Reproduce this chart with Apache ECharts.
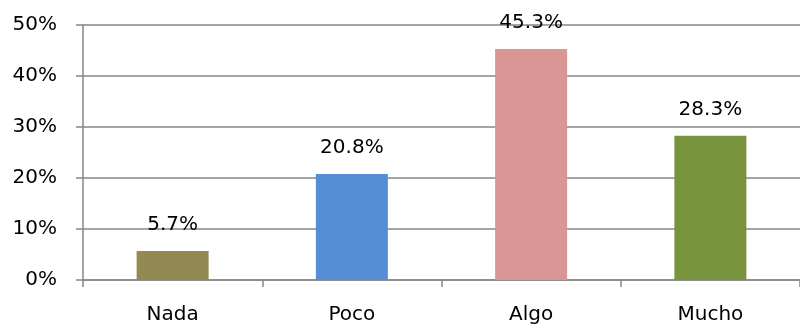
<!DOCTYPE html>
<html>
<head>
<meta charset="utf-8">
<script src="https://cdn.jsdelivr.net/npm/echarts@6/dist/echarts.min.js"></script>
<style>
  html, body { margin: 0; padding: 0; background: #fff; }
  #chart { width: 800px; height: 329px; }
</style>
</head>
<body>
<div id="chart"></div>
<script>
// Response categories and their share (%)
const categories = ['Nada', 'Poco', 'Algo', 'Mucho'];
const shares = [5.7, 20.8, 45.3, 28.3];
const barColors = ['#938953', '#558ED5', '#D99694', '#77933C'];
const yTicks = [0, 10, 20, 30, 40, 50];

const FONT = 'DejaVu Sans';
const LINE = '#868686';
const chart = echarts.init(document.getElementById('chart'), null, { renderer: 'canvas' });

chart.setOption({
  animation: false,
  grid: { left: 83, right: -3, top: 25, bottom: 49, containLabel: false },
  xAxis: {
    type: 'category',
    data: categories,
    axisLine: { lineStyle: { color: LINE, width: 1.5 } },
    axisTick: { show: true, length: 7, alignWithLabel: false, lineStyle: { color: LINE, width: 1.5 } },
    axisLabel: { color: '#000', fontFamily: FONT, fontSize: 20, margin: 25 }
  },
  yAxis: {
    type: 'value',
    min: yTicks[0],
    max: yTicks[yTicks.length - 1],
    interval: 10,
    axisLine: { show: true, lineStyle: { color: LINE, width: 1.5 } },
    axisTick: { show: true, length: 7, lineStyle: { color: LINE, width: 1.5 } },
    splitLine: { lineStyle: { color: LINE, width: 1.5 } },
    axisLabel: { color: '#000', fontFamily: FONT, fontSize: 20, margin: 26, formatter: v => v + '%' }
  },
  series: [{
    type: 'bar',
    barWidth: 72,
    data: shares.map((v, i) => ({ value: v, itemStyle: { color: barColors[i] } })),
    label: {
      show: true,
      position: 'top',
      distance: 16,
      color: '#000',
      fontFamily: FONT,
      fontSize: 20,
      formatter: p => p.value.toFixed(1) + '%'
    }
  }]
});
</script>
</body>
</html>
